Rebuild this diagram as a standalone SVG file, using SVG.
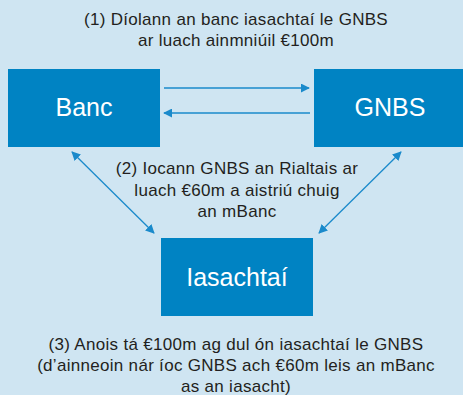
<svg xmlns="http://www.w3.org/2000/svg" width="463" height="395" viewBox="0 0 463 395">
<defs>
<style>
.bg{fill:#cfe5f2}
.box{fill:#0083c3}
.lbl{font-family:"Liberation Sans",Arial,sans-serif;font-size:17px;letter-spacing:0.3px;fill:#231f20;text-anchor:middle}
.nl{font-family:"Liberation Sans",Arial,sans-serif;font-size:25px;fill:#ffffff;text-anchor:middle}
.ar{stroke:#1a8acb;stroke-width:1.3;fill:none}
</style>
<marker id="ah" viewBox="0 0 10 10" refX="9" refY="5" markerWidth="9" markerHeight="9" markerUnits="userSpaceOnUse" orient="auto-start-reverse">
<path d="M0,0 L10,5 L0,10 z" fill="#1a8acb"/>
</marker>
</defs>
<rect class="bg" x="0" y="0" width="463" height="395"/>
<text class="lbl" x="236" y="25">(1) Díolann an banc iasachtaí le GNBS</text>
<text class="lbl" x="236" y="46">ar luach ainmniúil €100m</text>
<g id="banc"><rect class="box" x="8" y="69" width="152" height="78"/><text class="nl" x="84" y="116">Banc</text></g>
<g id="gnbs"><rect class="box" x="314" y="69" width="149" height="78"/><text class="nl" x="390" y="116">GNBS</text></g>
<g id="iasachtai"><rect class="box" x="161" y="238" width="152" height="78"/><text class="nl" x="237" y="286">Iasachtaí</text></g>
<g id="connectors">
<line class="ar" x1="164" y1="88" x2="309" y2="88" marker-end="url(#ah)"/>
<line class="ar" x1="310" y1="113" x2="164" y2="113" marker-end="url(#ah)"/>
<line class="ar" x1="72" y1="152" x2="154" y2="233" marker-start="url(#ah)" marker-end="url(#ah)"/>
<line class="ar" x1="401" y1="152" x2="319" y2="233" marker-start="url(#ah)" marker-end="url(#ah)"/>
</g>
<text class="lbl" x="237" y="174">(2) Iocann GNBS an Rialtais ar</text>
<text class="lbl" x="237" y="196">luach €60m a aistriú chuig</text>
<text class="lbl" x="237" y="217">an mBanc</text>
<text class="lbl" x="236" y="350">(3) Anois tá €100m ag dul ón iasachtaí le GNBS</text>
<text class="lbl" x="236" y="371">(d’ainneoin nár íoc GNBS ach €60m leis an mBanc</text>
<text class="lbl" x="236" y="392">as an iasacht)</text>
</svg>
